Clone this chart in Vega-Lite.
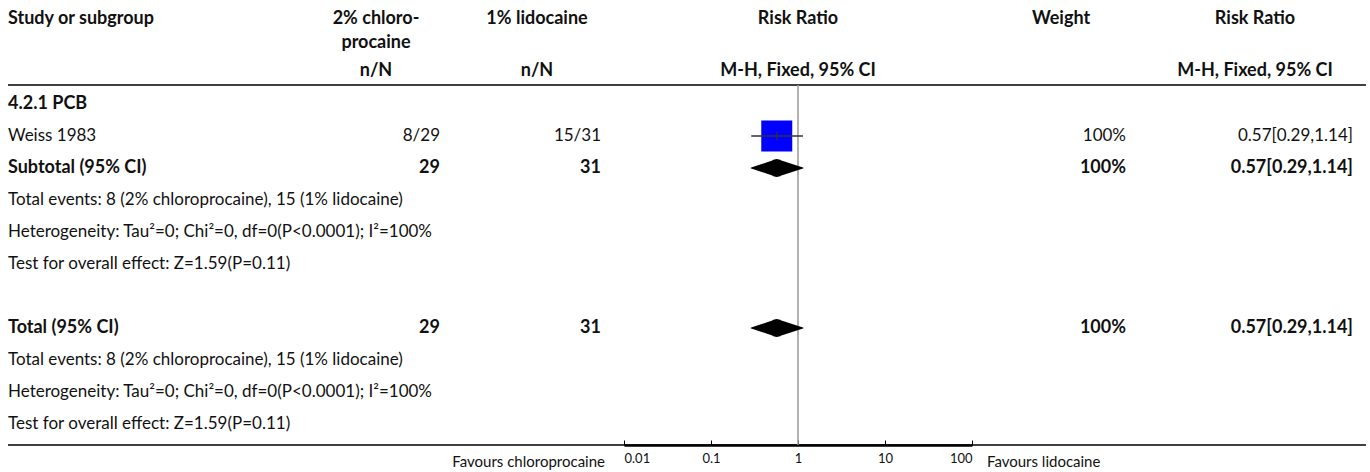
{
  "$schema": "https://vega.github.io/schema/vega-lite/v6.json",
  "padding": {"left": 7, "right": 5, "top": 0, "bottom": 0},
  "bounds": "flush",
  "spacing": 0,
  "config": {
    "view": {"stroke": null},
    "text": {"font": "Lato", "fontSize": 17, "baseline": "middle", "color": "#111"},
    "axis": {"labelFont": "Lato"}
  },
  "datasets": {
    "lines": [{"row": -0.594}, {"row": 10.656}],
    "cells": [
      {"col": "study", "row": -2.656, "text": "Study or subgroup", "head": true, "bold": true},
      {"col": "study", "row": 0, "text": "4.2.1 PCB", "bold": true},
      {"col": "study", "row": 1, "text": "Weiss 1983", "bold": false},
      {"col": "study", "row": 2, "text": "Subtotal (95% CI)", "bold": true},
      {"col": "study", "row": 3, "text": "Total events: 8 (2% chloroprocaine), 15 (1% lidocaine)", "bold": false},
      {"col": "study", "row": 4, "text": "Heterogeneity: Tau²=0; Chi²=0, df=0(P<0.0001); I²=100%", "bold": false},
      {"col": "study", "row": 5, "text": "Test for overall effect: Z=1.59(P=0.11)", "bold": false},
      {"col": "study", "row": 7, "text": "Total (95% CI)", "bold": true},
      {"col": "study", "row": 8, "text": "Total events: 8 (2% chloroprocaine), 15 (1% lidocaine)", "bold": false},
      {"col": "study", "row": 9, "text": "Heterogeneity: Tau²=0; Chi²=0, df=0(P<0.0001); I²=100%", "bold": false},
      {"col": "study", "row": 10, "text": "Test for overall effect: Z=1.59(P=0.11)", "bold": false},
      {"col": "exp", "row": -2.656, "text": "2% chloro-", "head": true, "bold": true},
      {"col": "exp", "row": -1.906, "text": "procaine", "head": true, "bold": true},
      {"col": "exp", "row": -1.03, "text": "n/N", "head": true, "bold": true},
      {"col": "exp", "row": 1, "text": "8/29", "bold": false},
      {"col": "exp", "row": 2, "text": "29", "bold": true},
      {"col": "exp", "row": 7, "text": "29", "bold": true},
      {"col": "ctrl", "row": -2.656, "text": "1% lidocaine", "head": true, "bold": true},
      {"col": "ctrl", "row": -1.03, "text": "n/N", "head": true, "bold": true},
      {"col": "ctrl", "row": 1, "text": "15/31", "bold": false},
      {"col": "ctrl", "row": 2, "text": "31", "bold": true},
      {"col": "ctrl", "row": 7, "text": "31", "bold": true},
      {"col": "plot", "row": -2.656, "text": "Risk Ratio", "head": true, "bold": true},
      {"col": "plot", "row": -1.03, "text": "M-H, Fixed, 95% CI", "head": true, "bold": true},
      {"col": "weight", "row": -2.656, "text": "Weight", "head": true, "bold": true},
      {"col": "weight", "row": 1, "text": "100%", "bold": false},
      {"col": "weight", "row": 2, "text": "100%", "bold": true},
      {"col": "weight", "row": 7, "text": "100%", "bold": true},
      {"col": "rr", "row": -2.656, "text": "Risk Ratio", "head": true, "bold": true},
      {"col": "rr", "row": -1.03, "text": "M-H, Fixed, 95% CI", "head": true, "bold": true},
      {"col": "rr", "row": 1, "text": "0.57[0.29,1.14]", "bold": false},
      {"col": "rr", "row": 2, "text": "0.57[0.29,1.14]", "bold": true},
      {"col": "rr", "row": 7, "text": "0.57[0.29,1.14]", "bold": true}
    ],
    "studies": [{"study": "Weiss 1983", "row": 1, "rr": 0.57, "lo": 0.29, "hi": 1.14, "weight": 100}],
    "pooled": [
      {"grp": "Subtotal", "row": 2, "rr": 0.29, "w": 0},
      {"grp": "Subtotal", "row": 2, "rr": 0.57, "w": 100},
      {"grp": "Subtotal", "row": 2, "rr": 1.14, "w": 0},
      {"grp": "Total", "row": 7, "rr": 0.29, "w": 0},
      {"grp": "Total", "row": 7, "rr": 0.57, "w": 100},
      {"grp": "Total", "row": 7, "rr": 1.14, "w": 0}
    ],
    "favours": [
      {"side": "left", "rr": 0.01, "row": 11.2, "text": "Favours chloroprocaine"},
      {"side": "right", "rr": 100, "row": 11.2, "text": "Favours lidocaine"}
    ]
  },
  "hconcat": [
    {
      "width": 304, "height": 445,
      "layer": [
        {"data": {"name": "lines"}, "mark": {"type": "rule", "strokeWidth": 1.5, "color": "#000"},
         "encoding": {"y": {"field": "row", "type": "quantitative", "scale": {"domain": [-3.25, 10.65625], "reverse": true, "zero": false, "nice": false}, "axis": null}}},
        {"data": {"name": "cells"}, "transform": [{"filter": "datum.col === 'study' && !datum.bold"}],
         "mark": {"type": "text", "align": "left"},
         "encoding": {"x": {"field": "col", "type": "nominal", "scale": {"type": "point", "padding": 0, "align": 0}, "axis": null},
                      "y": {"field": "row", "type": "quantitative"}, "text": {"field": "text"}}},
        {"data": {"name": "cells"}, "transform": [{"filter": "datum.col === 'study' && datum.bold"}],
         "mark": {"type": "text", "align": "left", "fontWeight": "bold", "fontSize": 18},
         "encoding": {"x": {"field": "col", "type": "nominal", "axis": null},
                      "y": {"field": "row", "type": "quantitative"}, "text": {"field": "text"}}}
      ]
    },
    {
      "width": 128, "height": 445,
      "layer": [
        {"data": {"name": "lines"}, "mark": {"type": "rule", "strokeWidth": 1.5, "color": "#000"},
         "encoding": {"y": {"field": "row", "type": "quantitative", "scale": {"domain": [-3.25, 10.65625], "reverse": true, "zero": false, "nice": false}, "axis": null}}},
        {"data": {"name": "cells"}, "transform": [{"filter": "datum.col === 'exp' && !datum.head && !datum.bold"}],
         "mark": {"type": "text", "align": "right"},
         "encoding": {"x": {"field": "col", "type": "nominal", "scale": {"type": "point", "padding": 0, "align": 1}, "axis": null},
                      "y": {"field": "row", "type": "quantitative"}, "text": {"field": "text"}}},
        {"data": {"name": "cells"}, "transform": [{"filter": "datum.col === 'exp' && !datum.head && datum.bold"}],
         "mark": {"type": "text", "align": "right", "fontWeight": "bold", "fontSize": 18},
         "encoding": {"x": {"field": "col", "type": "nominal", "axis": null},
                      "y": {"field": "row", "type": "quantitative"}, "text": {"field": "text"}}},
        {"data": {"name": "cells"}, "transform": [{"filter": "datum.col === 'exp' && datum.head"}],
         "mark": {"type": "text", "align": "center", "fontWeight": "bold", "fontSize": 18, "dx": -64},
         "encoding": {"x": {"field": "col", "type": "nominal", "axis": null},
                      "y": {"field": "row", "type": "quantitative"}, "text": {"field": "text"}}}
      ]
    },
    {
      "width": 161, "height": 445,
      "layer": [
        {"data": {"name": "lines"}, "mark": {"type": "rule", "strokeWidth": 1.5, "color": "#000"},
         "encoding": {"y": {"field": "row", "type": "quantitative", "scale": {"domain": [-3.25, 10.65625], "reverse": true, "zero": false, "nice": false}, "axis": null}}},
        {"data": {"name": "cells"}, "transform": [{"filter": "datum.col === 'ctrl' && !datum.head && !datum.bold"}],
         "mark": {"type": "text", "align": "right"},
         "encoding": {"x": {"field": "col", "type": "nominal", "scale": {"type": "point", "padding": 0, "align": 1}, "axis": null},
                      "y": {"field": "row", "type": "quantitative"}, "text": {"field": "text"}}},
        {"data": {"name": "cells"}, "transform": [{"filter": "datum.col === 'ctrl' && !datum.head && datum.bold"}],
         "mark": {"type": "text", "align": "right", "fontWeight": "bold", "fontSize": 18},
         "encoding": {"x": {"field": "col", "type": "nominal", "axis": null},
                      "y": {"field": "row", "type": "quantitative"}, "text": {"field": "text"}}},
        {"data": {"name": "cells"}, "transform": [{"filter": "datum.col === 'ctrl' && datum.head"}],
         "mark": {"type": "text", "align": "center", "fontWeight": "bold", "fontSize": 18, "dx": -64},
         "encoding": {"x": {"field": "col", "type": "nominal", "axis": null},
                      "y": {"field": "row", "type": "quantitative"}, "text": {"field": "text"}}}
      ]
    },
    {
      "width": 23, "height": 445,
      "layer": [
        {"data": {"name": "lines"}, "mark": {"type": "rule", "strokeWidth": 1.5, "color": "#000"},
         "encoding": {"y": {"field": "row", "type": "quantitative", "scale": {"domain": [-3.25, 10.65625], "reverse": true, "zero": false, "nice": false}, "axis": null}}}
      ]
    },
    {
      "width": 348, "height": 445,
      "layer": [
        {"data": {"name": "lines"}, "mark": {"type": "rule", "strokeWidth": 1.5, "color": "#000"},
         "encoding": {"y": {"field": "row", "type": "quantitative", "scale": {"domain": [-3.25, 10.65625], "reverse": true, "zero": false, "nice": false}, "axis": null}}},
        {"data": {"name": "studies"}, "mark": {"type": "rule", "color": "#999", "strokeWidth": 1.5},
         "encoding": {
           "x": {"datum": 1, "type": "quantitative",
                 "scale": {"type": "log", "domain": [0.01, 100], "nice": false},
                 "axis": {"values": [0.01, 0.1, 1, 10, 100], "format": "~g", "title": null, "grid": false,
                          "domainColor": "#000", "domainWidth": 2.5, "tickColor": "#000", "tickSize": -5, "tickWidth": 1,
                          "labelFontSize": 13, "labelColor": "#111", "labelPadding": 12}},
           "y": {"datum": -0.594, "type": "quantitative"},
           "y2": {"datum": 10.656}}},
        {"data": {"name": "studies"}, "mark": {"type": "square", "size": 961, "color": "#0000ff", "opacity": 1, "filled": true},
         "encoding": {"x": {"field": "rr", "type": "quantitative"}, "y": {"field": "row", "type": "quantitative"}}},
        {"data": {"name": "studies"}, "mark": {"type": "rule", "color": "#333", "strokeWidth": 1.5},
         "encoding": {"x": {"field": "lo", "type": "quantitative"}, "x2": {"field": "hi"}, "y": {"field": "row", "type": "quantitative"}}},
        {"data": {"name": "studies"}, "mark": {"type": "tick", "orient": "vertical", "size": 9, "thickness": 1.5, "color": "#333"},
         "encoding": {"x": {"field": "rr", "type": "quantitative"}, "y": {"field": "row", "type": "quantitative"}}},
        {"data": {"name": "pooled"}, "mark": {"type": "trail", "color": "#000"},
         "encoding": {"x": {"field": "rr", "type": "quantitative"}, "y": {"field": "row", "type": "quantitative"},
                      "detail": {"field": "grp"},
                      "size": {"field": "w", "type": "quantitative", "scale": {"domain": [0, 100], "range": [0, 18]}, "legend": null}}},
        {"data": {"name": "cells"}, "transform": [{"filter": "datum.col === 'plot'"}],
         "mark": {"type": "text", "align": "center", "fontWeight": "bold", "fontSize": 18},
         "encoding": {"x": {"datum": 1, "type": "quantitative"}, "y": {"field": "row", "type": "quantitative"}, "text": {"field": "text"}}},
        {"data": {"name": "favours"}, "transform": [{"filter": "datum.side === 'left'"}],
         "mark": {"type": "text", "align": "right", "dx": -19, "fontSize": 15},
         "encoding": {"x": {"field": "rr", "type": "quantitative"}, "y": {"field": "row", "type": "quantitative"}, "text": {"field": "text"}}},
        {"data": {"name": "favours"}, "transform": [{"filter": "datum.side === 'right'"}],
         "mark": {"type": "text", "align": "left", "dx": 15, "fontSize": 15},
         "encoding": {"x": {"field": "rr", "type": "quantitative"}, "y": {"field": "row", "type": "quantitative"}, "text": {"field": "text"}}}
      ]
    },
    {
      "width": 154, "height": 445,
      "layer": [
        {"data": {"name": "lines"}, "mark": {"type": "rule", "strokeWidth": 1.5, "color": "#000"},
         "encoding": {"y": {"field": "row", "type": "quantitative", "scale": {"domain": [-3.25, 10.65625], "reverse": true, "zero": false, "nice": false}, "axis": null}}},
        {"data": {"name": "cells"}, "transform": [{"filter": "datum.col === 'weight' && !datum.head && !datum.bold"}],
         "mark": {"type": "text", "align": "right"},
         "encoding": {"x": {"field": "col", "type": "nominal", "scale": {"type": "point", "padding": 0, "align": 1}, "axis": null},
                      "y": {"field": "row", "type": "quantitative"}, "text": {"field": "text"}}},
        {"data": {"name": "cells"}, "transform": [{"filter": "datum.col === 'weight' && !datum.head && datum.bold"}],
         "mark": {"type": "text", "align": "right", "fontWeight": "bold", "fontSize": 18},
         "encoding": {"x": {"field": "col", "type": "nominal", "axis": null},
                      "y": {"field": "row", "type": "quantitative"}, "text": {"field": "text"}}},
        {"data": {"name": "cells"}, "transform": [{"filter": "datum.col === 'weight' && datum.head"}],
         "mark": {"type": "text", "align": "center", "fontWeight": "bold", "fontSize": 18, "dx": -65},
         "encoding": {"x": {"field": "col", "type": "nominal", "axis": null},
                      "y": {"field": "row", "type": "quantitative"}, "text": {"field": "text"}}}
      ]
    },
    {
      "width": 227, "height": 445,
      "layer": [
        {"data": {"name": "lines"}, "mark": {"type": "rule", "strokeWidth": 1.5, "color": "#000"},
         "encoding": {"y": {"field": "row", "type": "quantitative", "scale": {"domain": [-3.25, 10.65625], "reverse": true, "zero": false, "nice": false}, "axis": null}}},
        {"data": {"name": "cells"}, "transform": [{"filter": "datum.col === 'rr' && !datum.head && !datum.bold"}],
         "mark": {"type": "text", "align": "right"},
         "encoding": {"x": {"field": "col", "type": "nominal", "scale": {"type": "point", "padding": 0, "align": 1}, "axis": null},
                      "y": {"field": "row", "type": "quantitative"}, "text": {"field": "text"}}},
        {"data": {"name": "cells"}, "transform": [{"filter": "datum.col === 'rr' && !datum.head && datum.bold"}],
         "mark": {"type": "text", "align": "right", "fontWeight": "bold", "fontSize": 18},
         "encoding": {"x": {"field": "col", "type": "nominal", "axis": null},
                      "y": {"field": "row", "type": "quantitative"}, "text": {"field": "text"}}},
        {"data": {"name": "cells"}, "transform": [{"filter": "datum.col === 'rr' && datum.head"}],
         "mark": {"type": "text", "align": "center", "fontWeight": "bold", "fontSize": 18, "dx": -98},
         "encoding": {"x": {"field": "col", "type": "nominal", "axis": null},
                      "y": {"field": "row", "type": "quantitative"}, "text": {"field": "text"}}}
      ]
    },
    {
      "width": 13, "height": 445,
      "layer": [
        {"data": {"name": "lines"}, "mark": {"type": "rule", "strokeWidth": 1.5, "color": "#000"},
         "encoding": {"y": {"field": "row", "type": "quantitative", "scale": {"domain": [-3.25, 10.65625], "reverse": true, "zero": false, "nice": false}, "axis": null}}}
      ]
    }
  ]
}
